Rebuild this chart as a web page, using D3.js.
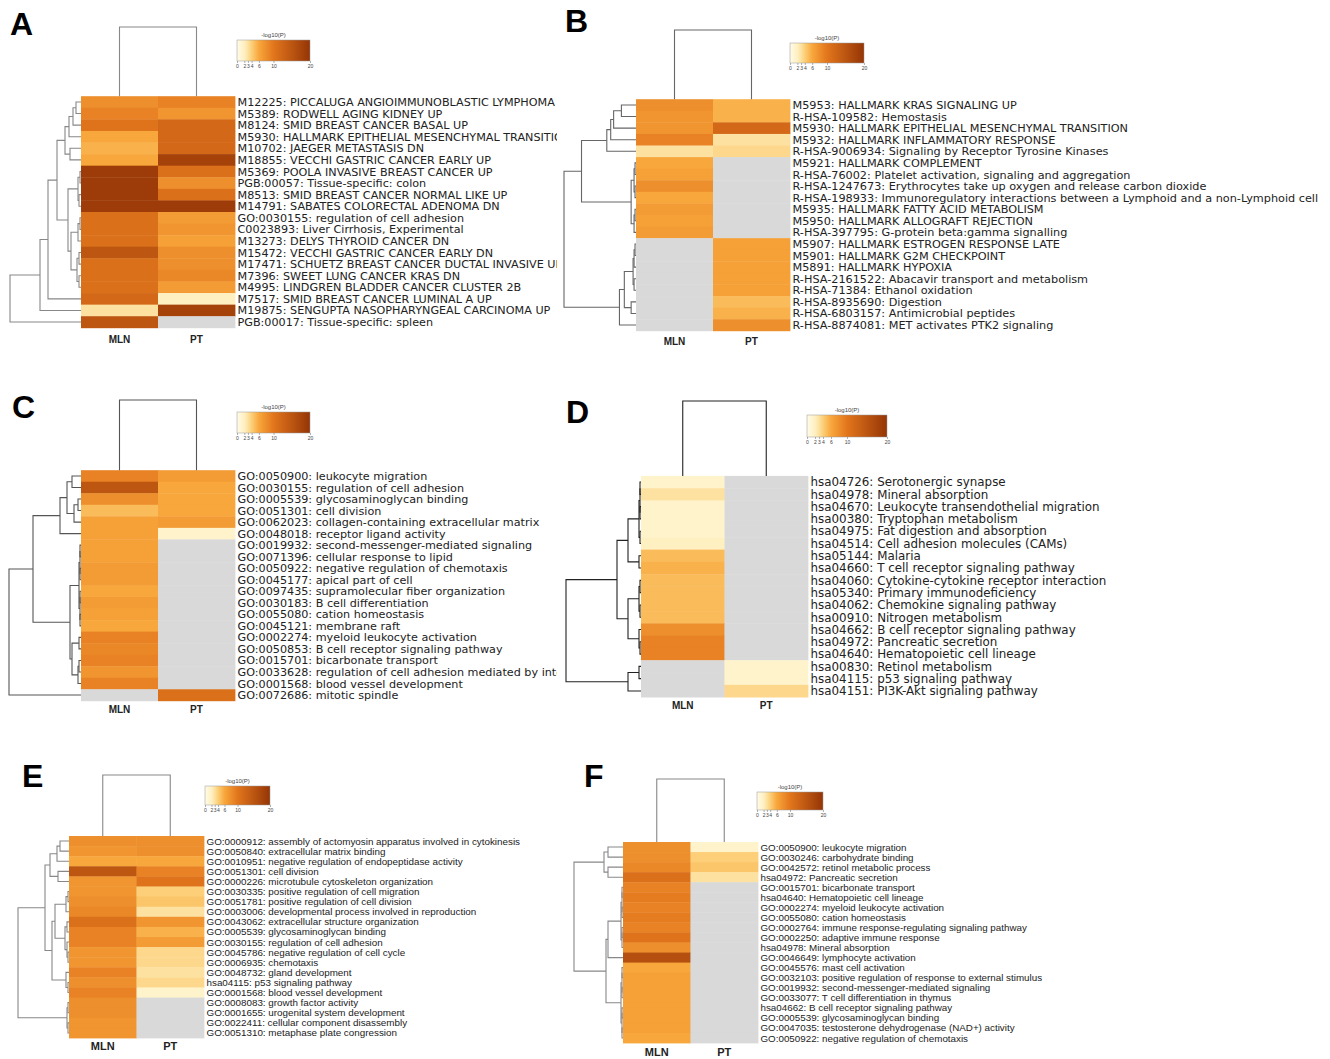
<!DOCTYPE html>
<html>
<head>
<meta charset="utf-8">
<script src="https://cdn.jsdelivr.net/npm/d3@7"></script>
<style>
  body { margin: 0; background: #fff; }
  svg { display: block; }
</style>
</head>
<body>
<svg id="viz" width="1330" height="1059"></svg>
<script>
// shared
const columns = ['MLN', 'PT'];
const legendTicks = [0, 2, 3, 4, 6, 10, 20];
const legendColors = ['#fffbe8', '#fff0c2', '#fde1a0', '#fccf78', '#f8a73c', '#e2761c', '#953506'];

// Panel A
const termsA = [
  'M12225: PICCALUGA ANGIOIMMUNOBLASTIC LYMPHOMA',
  'M5389: RODWELL AGING KIDNEY UP',
  'M8124: SMID BREAST CANCER BASAL UP',
  'M5930: HALLMARK EPITHELIAL MESENCHYMAL TRANSITION',
  'M10702: JAEGER METASTASIS DN',
  'M18855: VECCHI GASTRIC CANCER EARLY UP',
  'M5369: POOLA INVASIVE BREAST CANCER UP',
  'PGB:00057: Tissue-specific: colon',
  'M8513: SMID BREAST CANCER NORMAL LIKE UP',
  'M14791: SABATES COLORECTAL ADENOMA DN',
  'GO:0030155: regulation of cell adhesion',
  'C0023893: Liver Cirrhosis, Experimental',
  'M13273: DELYS THYROID CANCER DN',
  'M15472: VECCHI GASTRIC CANCER EARLY DN',
  'M17471: SCHUETZ BREAST CANCER DUCTAL INVASIVE UP',
  'M7396: SWEET LUNG CANCER KRAS DN',
  'M4995: LINDGREN BLADDER CANCER CLUSTER 2B',
  'M7517: SMID BREAST CANCER LUMINAL A UP',
  'M19875: SENGUPTA NASOPHARYNGEAL CARCINOMA UP',
  'PGB:00017: Tissue-specific: spleen'
];
const mlnA = [8, 9, 10.5, 6, 5.5, 6, 19, 19, 19, 19, 11, 11, 11, 15, 11, 11, 11, 12, 3, 15];
const ptA = [9, 7.5, 12, 12, 12, 18, 11, 8, 11, 19, 7, 7.5, 6.5, 8, 8, 8.5, 7, 2, 18, null];
const treeA = [71, [41, [33, [24,
  [16, [12, [8, [5, 0, 1], 2], 3], [11, 4, 5]],
  [13, [3, [1, 6, 7], [2, 8, 9]], [10, [3, [1, 10, 11], 12], [4, [2, 13, 14], [2, 15, 16]]]]
], 17], 18], 19];

// Panel B
const termsB = [
  'M5953: HALLMARK KRAS SIGNALING UP',
  'R-HSA-109582: Hemostasis',
  'M5930: HALLMARK EPITHELIAL MESENCHYMAL TRANSITION',
  'M5932: HALLMARK INFLAMMATORY RESPONSE',
  'R-HSA-9006934: Signaling by Receptor Tyrosine Kinases',
  'M5921: HALLMARK COMPLEMENT',
  'R-HSA-76002: Platelet activation, signaling and aggregation',
  'R-HSA-1247673: Erythrocytes take up oxygen and release carbon dioxide',
  'R-HSA-198933: Immunoregulatory interactions between a Lymphoid and a non-Lymphoid cell',
  'M5935: HALLMARK FATTY ACID METABOLISM',
  'M5950: HALLMARK ALLOGRAFT REJECTION',
  'R-HSA-397795: G-protein beta:gamma signalling',
  'M5907: HALLMARK ESTROGEN RESPONSE LATE',
  'M5901: HALLMARK G2M CHECKPOINT',
  'M5891: HALLMARK HYPOXIA',
  'R-HSA-2161522: Abacavir transport and metabolism',
  'R-HSA-71384: Ethanol oxidation',
  'R-HSA-8935690: Digestion',
  'R-HSA-6803157: Antimicrobial peptides',
  'R-HSA-8874081: MET activates PTK2 signaling'
];
const mlnB = [8, 7.5, 7.5, 9, 3, 6, 6.5, 8, 6, 7, 6.5, 7, null, null, null, null, null, null, null, null];
const ptB = [5.5, 5.5, 12, 3, 3.5, null, null, null, null, null, null, null, 6.5, 6.5, 6.5, 6.5, 6.5, 5, 5.5, 8];
const treeB = [74,
  [56, [30, [26, [23, [15, 0, 1], 2], 3], 4], [5, [2, [1, 5, 6], [1, 7, 8]], [2, [1, 9, 10], 11]]],
  [17, [12, [3, [2, [1, 12, 13], 14], [2, 15, 16]], [5, 17, 18]], 19]
];

// Panel C
const termsC = [
  'GO:0050900: leukocyte migration',
  'GO:0030155: regulation of cell adhesion',
  'GO:0005539: glycosaminoglycan binding',
  'GO:0051301: cell division',
  'GO:0062023: collagen-containing extracellular matrix',
  'GO:0048018: receptor ligand activity',
  'GO:0019932: second-messenger-mediated signaling',
  'GO:0071396: cellular response to lipid',
  'GO:0050922: negative regulation of chemotaxis',
  'GO:0045177: apical part of cell',
  'GO:0097435: supramolecular fiber organization',
  'GO:0030183: B cell differentiation',
  'GO:0055080: cation homeostasis',
  'GO:0045121: membrane raft',
  'GO:0002274: myeloid leukocyte activation',
  'GO:0050853: B cell receptor signaling pathway',
  'GO:0015701: bicarbonate transport',
  'GO:0033628: regulation of cell adhesion mediated by integrin',
  'GO:0001568: blood vessel development',
  'GO:0072686: mitotic spindle'
];
const mlnC = [9, 15, 8, 5, 6.5, 6.5, 6.5, 6.5, 7, 7, 6, 7, 6.5, 6, 9, 8.5, 9, 7.5, 9, null];
const ptC = [7, 6, 6, 6, 7, 1.5, null, null, null, null, null, null, null, null, null, null, null, null, null, 11];
const treeC = [72,
  [48,
    [21, [14, [9, 0, 1], [7, [3, 2, 3], 4]], 5],
    [11, [2, [1, [1, 6, 7], [1, 8, 9]], [1, [1, 10, 11], [1, 12, 13]]], [9, [2, 14, 15], [3, [2, 16, 17], 18]]]
  ], 19];

// Panel D
const termsD = [
  'hsa04726: Serotonergic synapse',
  'hsa04978: Mineral absorption',
  'hsa04670: Leukocyte transendothelial migration',
  'hsa00380: Tryptophan metabolism',
  'hsa04975: Fat digestion and absorption',
  'hsa04514: Cell adhesion molecules (CAMs)',
  'hsa05144: Malaria',
  'hsa04660: T cell receptor signaling pathway',
  'hsa04060: Cytokine-cytokine receptor interaction',
  'hsa05340: Primary immunodeficiency',
  'hsa04062: Chemokine signaling pathway',
  'hsa00910: Nitrogen metabolism',
  'hsa04662: B cell receptor signaling pathway',
  'hsa04972: Pancreatic secretion',
  'hsa04640: Hematopoietic cell lineage',
  'hsa00830: Retinol metabolism',
  'hsa04115: p53 signaling pathway',
  'hsa04151: PI3K-Akt signaling pathway'
];
const mlnD = [1.5, 3, 1.5, 1.5, 1.5, 2, 5, 5.5, 5, 5, 5, 5, 8, 9, 9, null, null, null];
const ptD = [null, null, null, null, null, null, null, null, null, null, null, null, null, null, null, 1.5, 1.5, 3.5];
const treeD = [75,
  [24,
    [13, [2, [1, [1, 0, 1], [1, 2, 3]], [1, 4, 5]], [2, 6, 7]],
    [13, [2, [1, 8, 9], [1, 10, 11]], [2, 12, [1, 13, 14]]]
  ],
  [13, [2, 15, 16], 17]
];

// Panel E
const termsE = [
  'GO:0000912: assembly of actomyosin apparatus involved in cytokinesis',
  'GO:0050840: extracellular matrix binding',
  'GO:0010951: negative regulation of endopeptidase activity',
  'GO:0051301: cell division',
  'GO:0000226: microtubule cytoskeleton organization',
  'GO:0030335: positive regulation of cell migration',
  'GO:0051781: positive regulation of cell division',
  'GO:0003006: developmental process involved in reproduction',
  'GO:0043062: extracellular structure organization',
  'GO:0005539: glycosaminoglycan binding',
  'GO:0030155: regulation of cell adhesion',
  'GO:0045786: negative regulation of cell cycle',
  'GO:0006935: chemotaxis',
  'GO:0048732: gland development',
  'hsa04115: p53 signaling pathway',
  'GO:0001568: blood vessel development',
  'GO:0008083: growth factor activity',
  'GO:0001655: urogenital system development',
  'GO:0022411: cellular component disassembly',
  'GO:0051310: metaphase plate congression'
];
const mlnE = [8, 7.5, 6, 15, 7.5, 7.5, 8, 8.5, 11, 9, 9, 7.5, 7.5, 9, 8, 9, 8, 8, 7.5, 7.5];
const ptE = [8, 8, 6, 9, 10.5, 4, 4.5, 3, 7.5, 5.5, 7, 3.5, 3.5, 3, 3.5, 1.5, null, null, null, null];
const treeE = [51,
  [24,
    [19, [12, [9, 0, 1], 2], [11, 3, 4]],
    [17, [14, [3, [1, 5, 6], 7], [4, [2, 8, 9], [2, 10, [1, 11, 12]]]], [3, 13, [1, 14, 15]]]
  ],
  [2, [1, 16, 17], [1, 18, 19]]
];

// Panel F
const termsF = [
  'GO:0050900: leukocyte migration',
  'GO:0030246: carbohydrate binding',
  'GO:0042572: retinol metabolic process',
  'hsa04972: Pancreatic secretion',
  'GO:0015701: bicarbonate transport',
  'hsa04640: Hematopoietic cell lineage',
  'GO:0002274: myeloid leukocyte activation',
  'GO:0055080: cation homeostasis',
  'GO:0002764: immune response-regulating signaling pathway',
  'GO:0002250: adaptive immune response',
  'hsa04978: Mineral absorption',
  'GO:0046649: lymphocyte activation',
  'GO:0045576: mast cell activation',
  'GO:0032103: positive regulation of response to external stimulus',
  'GO:0019932: second-messenger-mediated signaling',
  'GO:0033077: T cell differentiation in thymus',
  'hsa04662: B cell receptor signaling pathway',
  'GO:0005539: glycosaminoglycan binding',
  'GO:0047035: testosterone dehydrogenase (NAD+) activity',
  'GO:0050922: negative regulation of chemotaxis'
];
const mlnF = [8, 8, 8.5, 11, 9, 9.5, 9, 9.5, 9, 10.5, 8, 16, 6, 6.5, 6.5, 6.5, 6.5, 6.5, 6.5, 6];
const ptF = [1.5, 4, 4.5, 3, null, null, null, null, null, null, null, null, null, null, null, null, null, null, null, null];
const treeF = [49,
  [19, [15, 0, 1], [15, 2, 3]],
  [17, [15, [2, [1, [1, 4, 5], [1, 6, 7]], [1, [1, 8, 9], 10]], 11], [2, [1, [1, 12, 13], [1, 14, 15]], [1, [1, 16, 17], [1, 18, 19]]]]
];

const color = d3.scaleLinear().domain(legendTicks).range(legendColors).clamp(true);
const svg = d3.select('#viz');

const dejavu = '"DejaVu Sans", sans-serif';
const liberation = '"Liberation Sans", Arial, sans-serif';

const panels = [
  { letter: 'A', lp: [10, 35], terms: termsA, mln: mlnA, pt: ptA, tree: treeA,
    x0: 81, x1: 235, y0: 96.2, y1: 327.8, left: 10, colTop: 27, leg: [237, 40, 73, 21],
    font: { family: dejavu, size: 11.2 }, clip: 557, colY: 343, colSize: 10, stroke: '#888' },
  { letter: 'B', lp: [565, 32], terms: termsB, mln: mlnB, pt: ptB, tree: treeB,
    x0: 636, x1: 790, y0: 99.2, y1: 330.8, left: 564, colTop: 30, leg: [790, 43, 74, 20],
    font: { family: dejavu, size: 11.25 }, clip: 1330, colY: 345, colSize: 10, stroke: '#666' },
  { letter: 'C', lp: [12, 418], terms: termsC, mln: mlnC, pt: ptC, tree: treeC,
    x0: 81, x1: 235, y0: 470.2, y1: 700.8, left: 9, colTop: 400, leg: [237, 412, 73, 21],
    font: { family: dejavu, size: 11.2 }, clip: 557, colY: 713, colSize: 10, stroke: '#555' },
  { letter: 'D', lp: [566, 423], terms: termsD, mln: mlnD, pt: ptD, tree: treeD,
    x0: 641, x1: 808, y0: 475.9, y1: 697.1, left: 566, colTop: 401, leg: [807, 415, 80, 22],
    font: { family: dejavu, size: 11.9 }, clip: 1330, colY: 709, colSize: 10, stroke: '#222' },
  { letter: 'E', lp: [22, 787], terms: termsE, mln: mlnE, pt: ptE, tree: treeE,
    x0: 69, x1: 204, y0: 836, y1: 1038, left: 18, colTop: 775, leg: [205, 786, 65, 19],
    font: { family: liberation, size: 9.85 }, clip: 1330, colY: 1050, colSize: 11, stroke: '#888' },
  { letter: 'F', lp: [584, 787], terms: termsF, mln: mlnF, pt: ptF, tree: treeF,
    x0: 623, x1: 758, y0: 842, y1: 1043, left: 574, colTop: 779, leg: [757, 792, 66, 18],
    font: { family: liberation, size: 9.8 }, clip: 1330, colY: 1056, colSize: 11, stroke: '#888' }
];

const drawPanel = (p, k) => {
  const g = svg.append('g');
  const rows = d3.range(p.terms.length);
  const x = d3.scaleBand().domain(columns).range([p.x0, p.x1]);
  const y = d3.scaleBand().domain(rows).range([p.y0, p.y1]);
  const cy = (i) => y(i) + y.bandwidth() / 2;

  // letter
  g.append('text')
    .attr('x', p.lp[0]).attr('y', p.lp[1])
    .style('font-family', 'Arial, "Liberation Sans", sans-serif')
    .style('font-weight', 'bold').style('font-size', '32px')
    .text(p.letter);

  // CELLS
  const cells = [];
  rows.forEach((i) => {
    cells.push({ r: i, c: 'MLN', v: p.mln[i] });
    cells.push({ r: i, c: 'PT', v: p.pt[i] });
  });
  g.append('g').selectAll('rect').data(cells).enter().append('rect')
    .attr('x', (d) => x(d.c))
    .attr('y', (d) => y(d.r))
    .attr('width', x.bandwidth() + 0.4)
    .attr('height', y.bandwidth() + 0.4)
    .attr('fill', (d) => (d.v == null ? '#d9d9d9' : color(d.v)));

  // ROW LABELS
  svg.append('clipPath').attr('id', 'clip' + k)
    .append('rect').attr('x', p.x1).attr('y', p.y0 - 10)
    .attr('width', p.clip - p.x1).attr('height', p.y1 - p.y0 + 20);
  g.append('g').attr('clip-path', 'url(#clip' + k + ')')
    .selectAll('text').data(p.terms).enter().append('text')
    .attr('x', p.x1 + 2.5)
    .attr('y', (d, i) => cy(i))
    .attr('dy', '0.36em')
    .style('font-family', p.font.family)
    .style('font-size', p.font.size + 'px')
    .style('fill', '#222')
    .text((d) => d);

  // COLUMN LABELS
  g.append('g').selectAll('text').data(columns).enter().append('text')
    .attr('x', (d) => x(d) + x.bandwidth() / 2)
    .attr('y', p.colY)
    .attr('text-anchor', 'middle')
    .style('font-family', 'Arial, "Liberation Sans", sans-serif')
    .style('font-weight', 'bold')
    .style('font-size', p.colSize + 'px')
    .style('fill', '#222')
    .text((d) => d);

  // ROW DENDROGRAM
  const hx = d3.scaleLinear().domain([0, p.tree[0]]).range([p.x0, p.left]);
  const links = [];
  const layout = (node) => {
    if (typeof node === 'number') return { x: hx(0), y: cy(node) };
    const a = layout(node[1]);
    const b = layout(node[2]);
    const nx = hx(node[0]);
    links.push([[a.x, a.y], [nx, a.y], [nx, b.y], [b.x, b.y]]);
    return { x: nx, y: (a.y + b.y) / 2 };
  };
  layout(p.tree);
  g.append('g').selectAll('path').data(links).enter().append('path')
    .attr('d', d3.line())
    .attr('fill', 'none')
    .attr('stroke', p.stroke)
    .attr('stroke-width', 1.1);

  // COLUMN DENDROGRAM
  const hy = d3.scaleLinear().domain([0, 1]).range([p.y0, p.colTop]);
  const xm = x('MLN') + x.bandwidth() / 2;
  const xp = x('PT') + x.bandwidth() / 2;
  g.append('path')
    .attr('d', d3.line()([[xm, hy(0)], [xm, hy(1)], [xp, hy(1)], [xp, hy(0)]]))
    .attr('fill', 'none')
    .attr('stroke', p.stroke)
    .attr('stroke-width', 1.1);

  // LEGEND
  const [lx, ly, lw, lh] = p.leg;
  const grad = svg.append('defs').append('linearGradient').attr('id', 'grad' + k);
  grad.selectAll('stop').data(legendTicks).enter().append('stop')
    .attr('offset', (d) => d / 20)
    .attr('stop-color', (d) => color(d));
  g.append('rect')
    .attr('x', lx).attr('y', ly).attr('width', lw).attr('height', lh)
    .attr('fill', 'url(#grad' + k + ')')
    .attr('stroke', '#999').attr('stroke-width', 0.5);
  g.append('text')
    .attr('x', lx + lw / 2).attr('y', ly - 3)
    .attr('text-anchor', 'middle')
    .style('font-family', 'Arial, sans-serif')
    .style('font-size', '6px').style('fill', '#444')
    .text('-log10(P)');
  const lscale = d3.scaleLinear().domain([0, 20]).range([lx, lx + lw]);
  const ax = g.append('g')
    .attr('transform', 'translate(0,' + (ly + lh) + ')')
    .call(d3.axisBottom(lscale).tickValues(legendTicks).tickSize(2).tickPadding(1));
  ax.select('.domain').remove();
  ax.selectAll('line').attr('stroke', '#666').attr('stroke-width', 0.5);
  ax.selectAll('text').style('font-size', '5px').style('fill', '#444');
};

panels.forEach(drawPanel);
</script>
</body>
</html>
